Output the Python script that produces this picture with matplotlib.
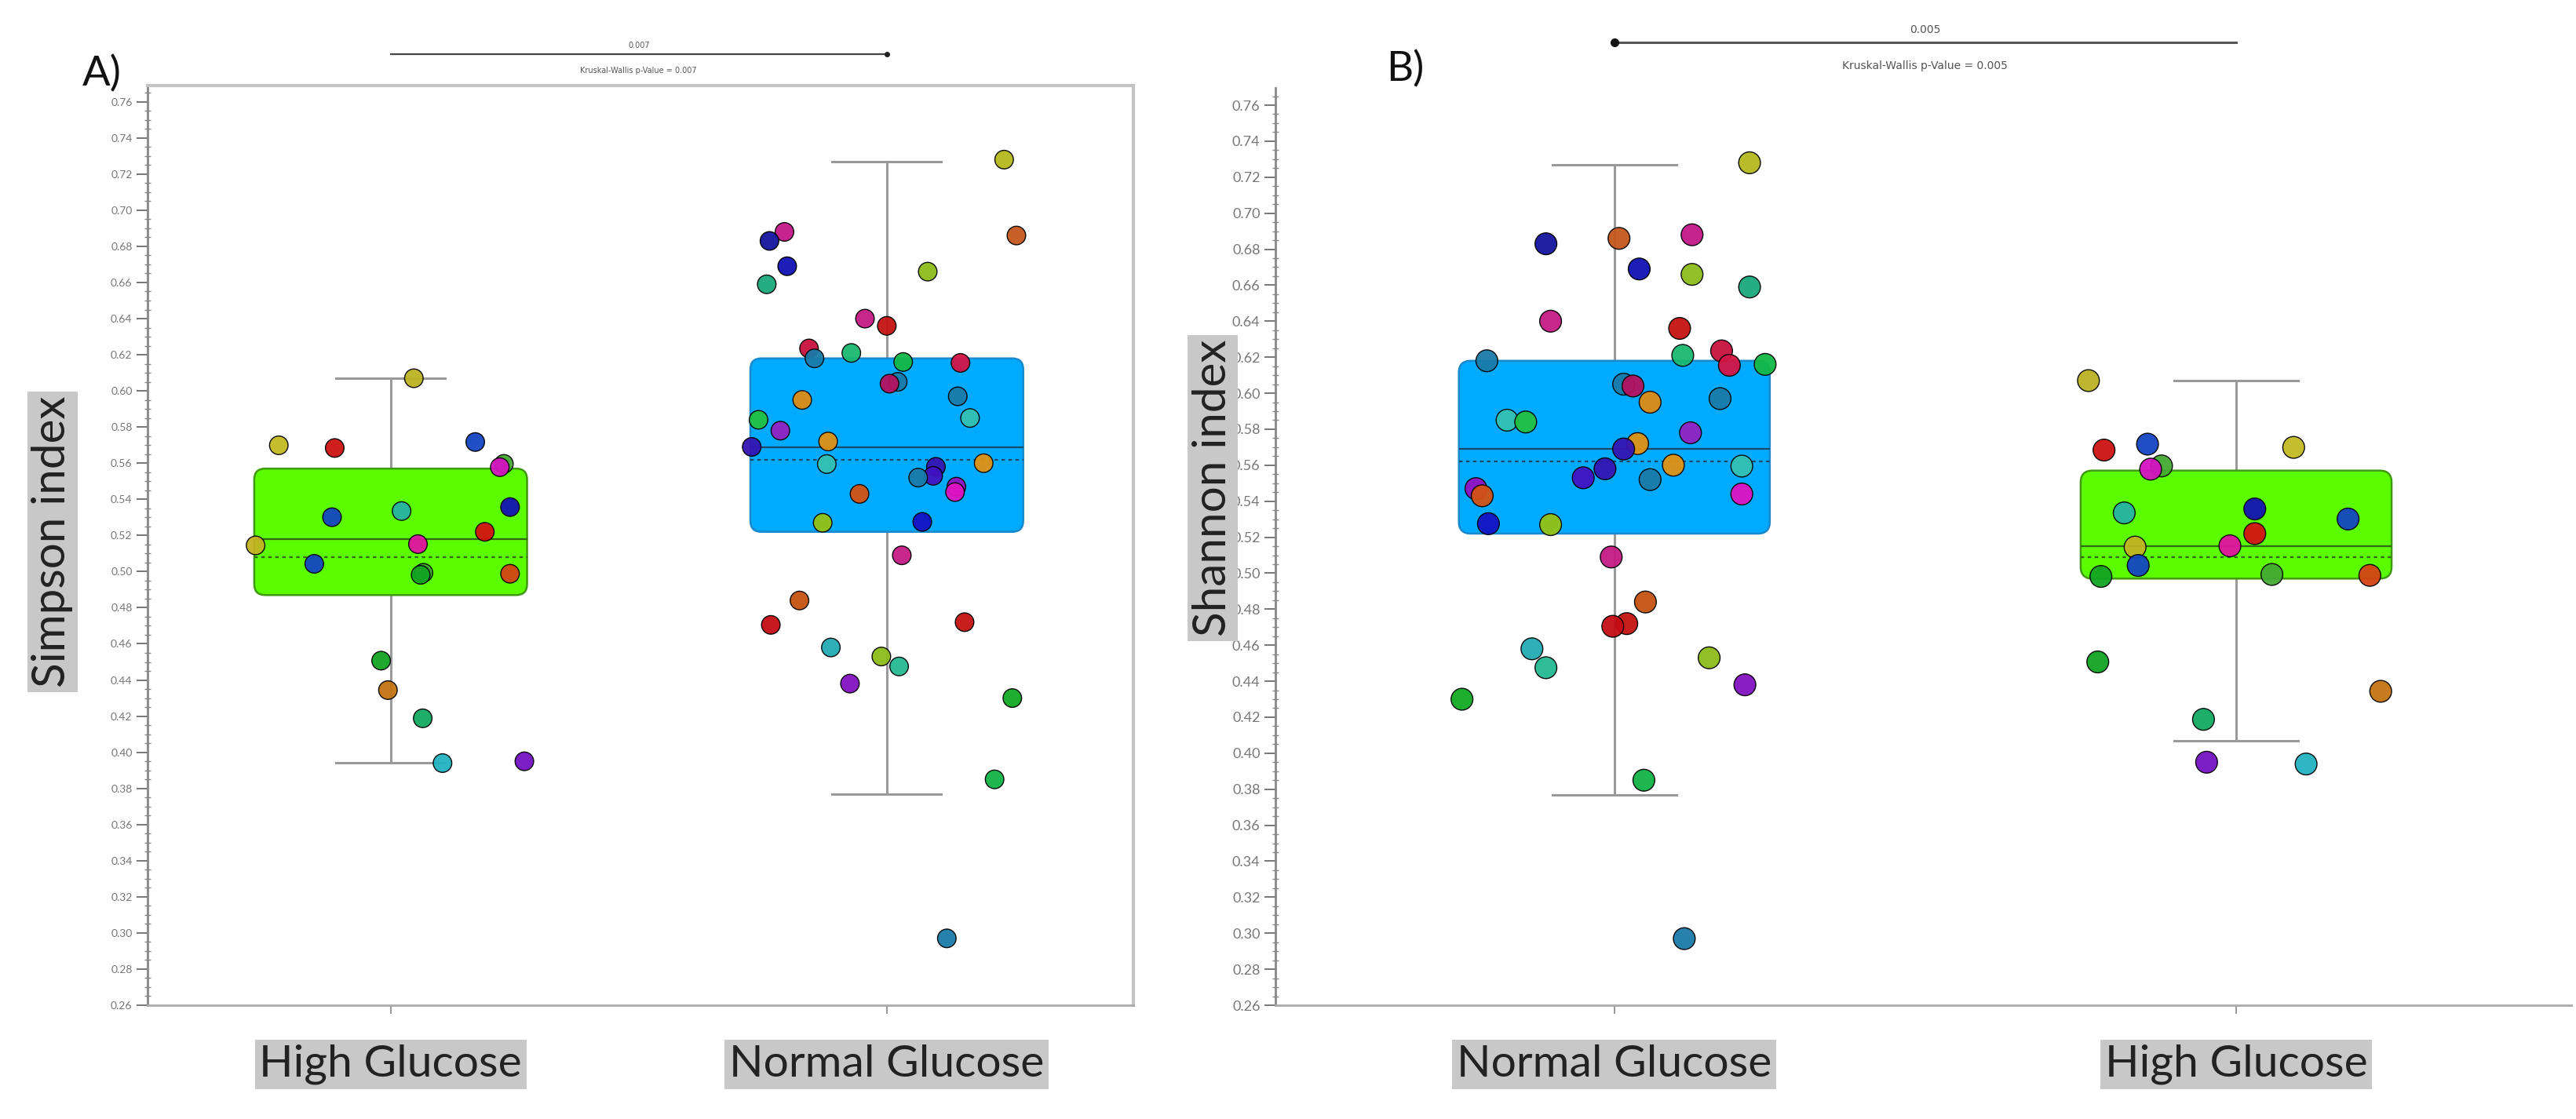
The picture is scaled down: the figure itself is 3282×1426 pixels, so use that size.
import matplotlib
matplotlib.use('Agg')
import matplotlib.pyplot as plt
from matplotlib.patches import FancyBboxPatch
from matplotlib.transforms import blended_transform_factory
from matplotlib.ticker import MultipleLocator, FormatStrFormatter

plt.rcParams['font.family'] = ['Lato', 'DejaVu Sans']

# ---------------- data ----------------
order_A = ['High Glucose', 'Normal Glucose']
order_B = ['Normal Glucose', 'High Glucose']
ylabel_A = 'Simpson index'
ylabel_B = 'Shannon index'
p_value_A = '0.007'
p_value_B = '0.005'

normal_values = [0.728, 0.688, 0.686, 0.683, 0.669, 0.666, 0.659, 0.640, 0.636, 0.6235,
                 0.621, 0.618, 0.616, 0.6155, 0.605, 0.604, 0.597, 0.595, 0.585, 0.584,
                 0.578, 0.572, 0.569, 0.560, 0.5595, 0.558, 0.553, 0.552, 0.547, 0.544,
                 0.543, 0.5275, 0.527, 0.509, 0.484, 0.472, 0.4705, 0.458, 0.453, 0.4475,
                 0.438, 0.430, 0.385, 0.297]
normal_colors = ['#b4b81e', '#c2188a', '#c4561c', '#14149e', '#1010b4', '#8cbc1a', '#1aa87a',
                 '#c41a84', '#c41212', '#c8123e', '#1ab870', '#1a7aa8', '#12b844', '#d41444',
                 '#1a7aa8', '#b4125e', '#1a7aa8', '#e08c12', '#34c0b0', '#22c040', '#9422c2',
                 '#e09212', '#3414b2', '#e09212', '#34c0b0', '#3414b2', '#4212c2', '#1a7aa8',
                 '#9412c2', '#e012c2', '#d45212', '#1212c2', '#94c212', '#c41a84', '#c45212',
                 '#c41212', '#c40c14', '#22aab2', '#8cbc1a', '#22ba92', '#8412c2', '#12aa22',
                 '#12b244', '#1a7aa8']
normal_jitter_A = [0.86, -0.75, 0.95, -0.86, -0.73, 0.30, -0.88, -0.16, 0.00, -0.57,
                   -0.26, -0.53, 0.12, 0.54, 0.08, 0.02, 0.52, -0.62, 0.61, -0.94,
                   -0.78, -0.43, -0.99, 0.71, -0.44, 0.36, 0.34, 0.23, 0.51, 0.50,
                   -0.20, 0.26, -0.47, 0.11, -0.64, 0.57, -0.85, -0.41, -0.04, 0.09,
                   -0.27, 0.92, 0.79, 0.44]
normal_jitter_B = [0.87, 0.50, 0.03, -0.44, 0.16, 0.50, 0.87, -0.41, 0.42, 0.69,
                   0.44, -0.82, 0.97, 0.74, 0.06, 0.12, 0.68, 0.23, -0.69, -0.57,
                   0.49, 0.15, 0.06, 0.38, 0.82, -0.06, -0.20, 0.23, -0.89, 0.82,
                   -0.85, -0.81, -0.41, -0.02, 0.20, 0.08, -0.01, -0.53, 0.61, -0.44,
                   0.84, -0.98, 0.19, 0.45]

high_values = [0.607, 0.5717, 0.5699, 0.5684, 0.5596, 0.5578, 0.5357, 0.5335, 0.5301, 0.522,
               0.5152, 0.5145, 0.5043, 0.4993, 0.4988, 0.4982, 0.4507, 0.4344, 0.4188, 0.395,
               0.394]
high_colors = ['#bab222', '#1444c2', '#c2ba22', '#cc1212', '#44aa32', '#d412c2', '#1212b4',
               '#24b2a2', '#1444c2', '#d41212', '#e212a2', '#c2b222', '#1444c2', '#44aa32',
               '#d44212', '#12a422', '#12a422', '#c27412', '#12aa62', '#7412c2', '#22b2c2']
high_jitter_A = [0.17, 0.62, -0.82, -0.41, 0.83, 0.80, 0.875, 0.08, -0.43, 0.69,
                 0.20, -0.99, -0.56, 0.24, 0.875, 0.22, -0.07, -0.02, 0.235, 0.98, 0.38]
high_jitter_B = [-0.95, -0.57, 0.37, -0.85, -0.48, -0.55, 0.12, -0.72, 0.72, 0.12,
                 -0.04, -0.65, -0.63, 0.23, 0.86, -0.87, -0.89, 0.93, -0.21, -0.19, 0.45]

# box statistics: whisker low, Q1, median, mean, Q3, whisker high
stats_A_high = [0.394, 0.487, 0.518, 0.508, 0.557, 0.607]
stats_A_normal = [0.377, 0.522, 0.569, 0.562, 0.618, 0.727]
stats_B_normal = [0.377, 0.522, 0.569, 0.562, 0.618, 0.727]
stats_B_high = [0.407, 0.497, 0.515, 0.509, 0.557, 0.607]

# ---------------- style ----------------
STYLE = {
    'High Glucose': dict(fill='#5cfc00', edge='#3f9a10', line='#2f6a10'),
    'Normal Glucose': dict(fill='#00aaff', edge='#1a88cc', line='#1a4a6a'),
}
LABEL_FS = 41
YLABEL_FS = 42

W, H = 3282, 1426
fig = plt.figure(figsize=(W / 100, H / 100), dpi=100)


def make_stats(s, label):
    return dict(whislo=s[0], q1=s[1], med=s[2], mean=s[3], q3=s[4], whishi=s[5],
                fliers=[], label=label)


def draw_panel(ax, order, stats_list, vals, cols, jits, width, msize, ylim, xlim,
               rounding_px, tick_fs):
    ax.set_xlim(*xlim)
    ax.set_ylim(*ylim)
    bb = ax.get_position()
    px_per_x = bb.width * W / (xlim[1] - xlim[0])
    px_per_y = bb.height * H / (ylim[1] - ylim[0])
    r = rounding_px / px_per_x
    aspect = (rounding_px / px_per_y) / r
    for i, (name, st) in enumerate(zip(order, stats_list)):
        sty = STYLE[name]
        patch = FancyBboxPatch((i - width / 2, st[1]), width, st[4] - st[1],
                               boxstyle=f"round,pad=0,rounding_size={r}",
                               mutation_aspect=aspect, facecolor=sty['fill'],
                               edgecolor=sty['edge'], linewidth=1.8, zorder=1)
        ax.add_patch(patch)
        ax.bxp([make_stats(st, name)], positions=[i], widths=width,
               capwidths=width * 0.4, showbox=False, showmeans=True, meanline=True,
               showfliers=False,
               whiskerprops=dict(color='#9a9a9a', linewidth=2.2, zorder=0.5),
               capprops=dict(color='#9a9a9a', linewidth=2.2, zorder=0.5),
               medianprops=dict(color=sty['line'], linewidth=1.6, zorder=2),
               meanprops=dict(color=sty['line'], linewidth=1.6, linestyle=(0, (2, 2)),
                              zorder=2),
               manage_ticks=False)
        x = [i + j * width / 2 for j in jits[name]]
        ax.scatter(x, vals[name], s=msize, c=cols[name], edgecolors=(0, 0, 0, 0.22),
                   linewidths=1.0, zorder=3, alpha=0.95)

    ax.yaxis.set_major_locator(MultipleLocator(0.02))
    ax.yaxis.set_minor_locator(MultipleLocator(0.005))
    ax.yaxis.set_major_formatter(FormatStrFormatter('%.2f'))
    ax.tick_params(axis='y', which='major', direction='out', length=10, width=1.4,
                   color='#777777', labelsize=tick_fs, labelcolor='#777777', pad=4)
    ax.tick_params(axis='y', which='minor', direction='inout', length=6, width=1.0,
                   color='#888888')
    ax.set_xticks(range(len(order)))
    ax.set_xticklabels(order, fontsize=LABEL_FS, color='#222222')
    ax.tick_params(axis='x', direction='out', length=8, width=1.4, color='#999999', pad=28)
    for lbl in ax.get_xticklabels():
        lbl.set_bbox(dict(facecolor='#c8c8c8', edgecolor='none', pad=4))
    ax.spines['left'].set_color('#888888')
    ax.spines['left'].set_linewidth(2)
    ax.spines['bottom'].set_color('#aaaaaa')
    ax.spines['bottom'].set_linewidth(2)


vals = {'Normal Glucose': normal_values, 'High Glucose': high_values}
cols = {'Normal Glucose': normal_colors, 'High Glucose': high_colors}

# Panel A
axA = fig.add_axes([188 / W, 1 - 1281 / H, (1444 - 188) / W, (1281 - 109) / H])
draw_panel(axA, order_A, [stats_A_high, stats_A_normal], vals, cols,
           {'Normal Glucose': normal_jitter_A, 'High Glucose': high_jitter_A},
           width=0.55, msize=290, ylim=(0.26, 0.769), xlim=(-0.49, 1.497),
           rounding_px=14, tick_fs=10)
for s in ('top', 'right'):
    axA.spines[s].set_color('#c4c4c4')
    axA.spines[s].set_linewidth(3)
axA.set_ylabel(ylabel_A, fontsize=YLABEL_FS, color='#222222', va='center',
               bbox=dict(facecolor='#c8c8c8', edgecolor='none', pad=4))
axA.yaxis.set_label_coords((67 - 188) / (1444 - 188), 0.504)

# Panel B
axB = fig.add_axes([1625 / W, 1 - 1281 / H, (3276 - 1625) / W, (1281 - 112) / H])
draw_panel(axB, order_B, [stats_B_normal, stats_B_high], vals, cols,
           {'Normal Glucose': normal_jitter_B, 'High Glucose': high_jitter_B},
           width=0.5, msize=400, ylim=(0.26, 0.7696), xlim=(-0.545, 1.539),
           rounding_px=15, tick_fs=13)
for s in ('top', 'right'):
    axB.spines[s].set_visible(False)
axB.set_ylabel(ylabel_B, fontsize=YLABEL_FS, color='#222222', va='center',
               bbox=dict(facecolor='#c8c8c8', edgecolor='none', pad=4))
axB.yaxis.set_label_coords((1545 - 1625) / (3276 - 1625), 0.564)

# panel letters
fig.text(130 / W, 1 - 94 / H, 'A)', fontsize=38, ha='center', va='center', color='#111111')
fig.text(1790 / W, 1 - 88 / H, 'B)', fontsize=38, ha='center', va='center', color='#111111')

# significance brackets
trA = blended_transform_factory(axA.transData, fig.transFigure)
axA.plot([0, 1], [1 - 69 / H] * 2, transform=trA, color='#444444', lw=1.6, clip_on=False)
axA.plot([1], [1 - 69 / H], 'o', ms=4, transform=trA, color='#222222', clip_on=False)
axA.text(0.5, 1 - 58 / H, p_value_A, transform=trA, ha='center', va='center',
         fontsize=7, color='#555555', family='DejaVu Sans')
axA.text(0.5, 1 - 90 / H, f'Kruskal-Wallis p-Value = {p_value_A}', transform=trA,
         ha='center', va='center', fontsize=7, color='#555555', family='DejaVu Sans')

trB = blended_transform_factory(axB.transData, fig.transFigure)
axB.plot([0, 1], [1 - 54 / H] * 2, transform=trB, color='#555555', lw=2.2, clip_on=False)
axB.plot([0], [1 - 54 / H], 'o', ms=7, transform=trB, color='#111111', clip_on=False)
axB.text(0.5, 1 - 38 / H, p_value_B, transform=trB, ha='center', va='center',
         fontsize=10, color='#555555', family='DejaVu Sans')
axB.text(0.5, 1 - 84 / H, f'Kruskal-Wallis p-Value = {p_value_B}', transform=trB,
         ha='center', va='center', fontsize=10, color='#555555', family='DejaVu Sans')

fig.savefig('out.png', dpi=100)
